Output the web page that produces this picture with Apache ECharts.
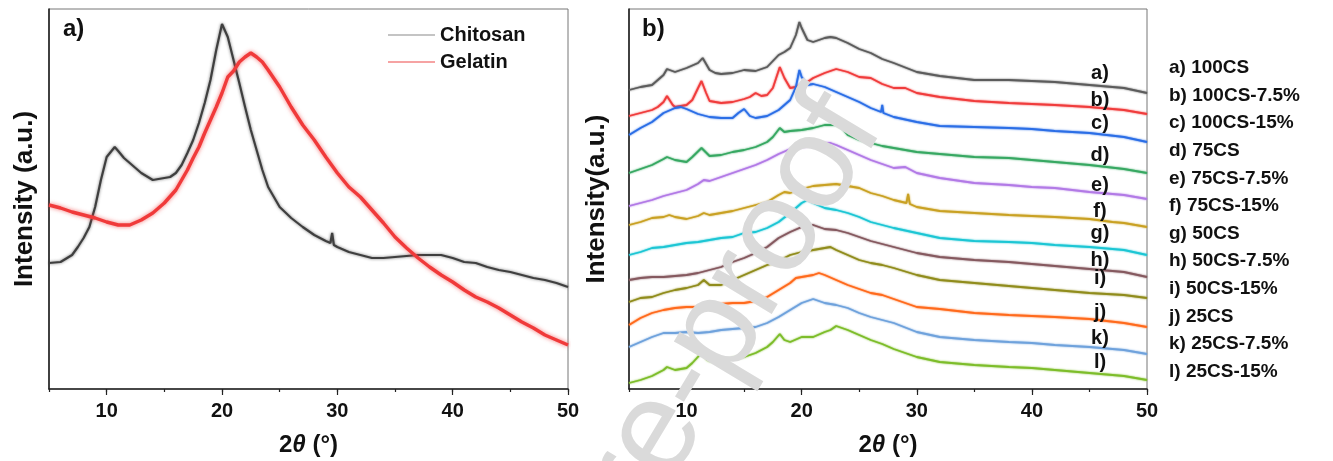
<!DOCTYPE html>
<html>
<head>
<meta charset="utf-8">
<script src="https://cdn.jsdelivr.net/npm/echarts@6/dist/echarts.min.js"></script>
<style>
  html, body { margin: 0; padding: 0; background: #ffffff; }
  #chart { width: 1333px; height: 461px; }
</style>
</head>
<body>
<div id="chart"></div>
<script>
// ---------- data ----------
const X_TICKS = [10, 20, 30, 40, 50];

// panel a: pure components, [2θ, intensity (a.u.)]
const CHITOSAN = [[5,126],[6,127],[7,134],[7.5,142],[8,151],[8.5,162],[9,182],[9.5,209],[10,232],[10.7,242],[11,238],[11.5,231],[12,226],[13,216],[14,209],[15,211],[15.5,212],[16,216],[16.5,224],[17,236],[17.5,249],[18,266],[18.5,286],[19,309],[19.5,339],[20,365],[20.5,352],[21,329],[21.5,306],[22,282],[22.5,259],[23,239],[23.5,219],[24,202],[25,182],[26,171],[27,162],[28,154],[29,148],[29.4,146],[29.55,156],[29.7,144],[30,142],[31,137],[32,134],[33,131],[34,131],[35,132],[36,133],[37,134],[38,134],[39,134],[40,131],[41,127],[42,126],[43,122],[44,119],[45,117],[46,114],[47,111],[48,109],[49,106],[50,102]];
const GELATIN = [[5,184],[6,181],[7,177],[8,174],[9,171],[10,167],[11,164],[12,164],[13,169],[14,176],[15,186],[16,199],[16.5,209],[17,219],[17.5,231],[18,242],[18.5,256],[19,269],[19.5,282],[20,296],[20.5,312],[21,318],[21.5,327],[22,332],[22.5,336],[23,332],[23.5,327],[24,319],[25,302],[26,282],[27,264],[28,249],[29,232],[30,216],[31,202],[32,192],[33,179],[34,166],[35,152],[36,141],[37,131],[38,122],[39,114],[40,107],[41,99],[42,92],[43,87],[44,81],[45,74],[46,67],[47,61],[48,54],[49,49],[50,44]];

// panel b: stacked film patterns, [2θ, intensity (a.u.) incl. offset]
const SAMPLE_TAGS = ['a)','b)','c)','d)','e)','f)','g)','h)','i)','j)','k)','l)'];
const SAMPLE_NAMES = ['100CS','100CS-7.5%','100CS-15%','75CS','75CS-7.5%','75CS-15%','50CS','50CS-7.5%','50CS-15%','25CS','25CS-7.5%','25CS-15%'];

const XRD_100CS = [[5,299],[6,302],[7,304],[8,314],[8.3,320],[9,317],[10,321],[11,326],[11.4,331],[12,319],[12.5,316],[13,315],[14,316],[15,319],[16,318],[17,322],[18,334],[18.5,337],[19,341],[19.5,354],[19.8,367],[20,361],[20.5,349],[21,347],[22,351],[22.5,352],[23,351],[24,346],[25,340],[26,336],[27,330],[28,326],[30,317],[32,313],[35,309],[38,309],[40,308],[42,307],[45,304],[48,301],[50,296]];
const XRD_100CS_75 = [[5,273],[6,276],[7,279],[7.5,282],[8,287],[8.3,293],[8.8,284],[9,282],[10,284],[10.5,289],[11,301],[11.3,308],[11.7,296],[12,288],[13,286],[14,287],[15,290],[15.5,292],[16,296],[16.5,293],[17,294],[17.5,301],[18.1,322],[18.5,311],[19,301],[19.5,302],[20,305],[20.5,307],[21,311],[22,316],[23,320],[24,317],[25,312],[26,311],[27,305],[28,301],[29,301],[30,296],[32,292],[35,288],[38,286],[40,285],[42,284],[45,282],[48,279],[50,275]];
const XRD_100CS_15 = [[5,254],[6,261],[7,267],[8,276],[9,281],[9.5,282],[10,280],[11,275],[12,272],[13,271],[14,271],[14.5,276],[15,280],[15.5,273],[16,271],[17,273],[18,279],[19,289],[19.5,302],[19.8,319],[20,312],[20.5,304],[21,305],[22,302],[23,297],[24,292],[25,287],[26,281],[26.9,277],[27,284],[27.1,276],[28,272],[30,267],[32,263],[35,262],[38,261],[40,260],[42,258],[45,256],[48,252],[50,247]];
const XRD_75CS = [[5,216],[6,220],[7,224],[8,230],[8.3,232],[9,229],[10,227],[10.5,232],[11.3,241],[12,233],[13,234],[14,237],[15,239],[16,242],[17,247],[17.5,252],[18.1,261],[18.5,257],[19,258],[20,259],[21,261],[22,264],[23,264],[23.5,261],[24,254],[25,249],[26,246],[27,243],[28,241],[30,237],[32,235],[35,232],[38,231],[40,229],[42,227],[45,224],[48,220],[50,216]];
const XRD_75CS_75 = [[5,183],[6,186],[7,189],[8,193],[9,196],[10,199],[11,205],[11.5,209],[12,208],[13,212],[14,216],[15,220],[16,224],[17,229],[18,235],[19,240],[20,242],[21,244],[22,246],[22.5,246],[23,244],[24,239],[25,234],[26,229],[27,225],[28,221],[29,222],[30,216],[32,211],[35,206],[38,204],[40,202],[42,201],[45,197],[48,194],[50,190]];
const XRD_75CS_15 = [[5,164],[6,167],[7,171],[8,172],[8.5,174],[9,172],[10,170],[11,173],[11.5,176],[12,174],[13,176],[14,178],[15,181],[16,184],[17,187],[18,194],[18.5,197],[19,196],[20,200],[21,203],[22,204],[23,205],[24,203],[25,201],[26,196],[27,193],[28,189],[29.1,186],[29.25,195],[29.4,185],[30,182],[32,178],[35,176],[38,174],[40,173],[42,172],[45,170],[47,167],[48,166],[50,162]];
const XRD_50CS = [[5,134],[6,137],[7,141],[8,142],[9,144],[10,146],[11,147],[12,149],[13,151],[14,152],[15,156],[16,157],[17,161],[18,167],[19,176],[20,186],[20.5,189],[21,186],[22,181],[23,179],[24,176],[25,172],[26,167],[27,164],[28,161],[30,156],[32,151],[35,148],[38,147],[40,146],[42,144],[45,142],[48,139],[50,134]];
const XRD_50CS_75 = [[5,109],[6,111],[7,112],[8,112],[9,113],[10,114],[11,116],[12,119],[13,122],[14,127],[15,131],[16,136],[17,142],[18,151],[19,157],[20,162],[21,164],[21.5,162],[22,160],[23,159],[24,156],[25,152],[26,148],[27,145],[28,142],[30,136],[32,132],[35,129],[38,127],[40,125],[42,123],[45,120],[48,117],[50,112]];
const XRD_50CS_15 = [[5,87],[6,91],[7,92],[8,96],[9,99],[10,101],[11,104],[11.5,109],[12,104],[13,104],[14,109],[15,114],[16,119],[17,124],[18,127],[18.5,131],[19,134],[20,137],[21,139],[22,141],[22.5,142],[23,139],[24,134],[25,129],[26,126],[27,124],[28,121],[30,114],[32,109],[35,106],[38,103],[40,101],[42,99],[45,96],[48,94],[50,91]];
const XRD_25CS = [[5,64],[6,71],[7,76],[8,79],[9,81],[10,82],[11,82],[12,84],[13,85],[14,86],[15,86],[16,88],[17,92],[18,99],[19,106],[19.5,111],[20,112],[21,114],[21.5,116],[22,114],[23,109],[24,104],[25,100],[26,96],[27,94],[28,90],[30,82],[32,80],[35,76],[38,74],[40,73],[42,72],[45,70],[48,66],[50,62]];
const XRD_25CS_75 = [[5,42],[6,47],[7,52],[8,56],[9,56],[10,57],[11,56],[12,57],[13,59],[14,60],[15,61],[16,62],[17,66],[18,72],[19,79],[20,86],[21,90],[22,86],[23,84],[24,81],[25,76],[26,72],[27,69],[28,66],[30,57],[32,52],[35,49],[38,47],[40,46],[42,44],[45,42],[48,39],[50,35]];
const XRD_25CS_15 = [[5,6],[6,9],[7,13],[8,19],[8.3,22],[9,19],[10,21],[10.5,26],[11.3,36],[11.8,29],[12,28],[13,27],[14,31],[15,32],[16,36],[17,42],[17.5,47],[18.1,55],[18.5,49],[19,47],[20,52],[21,52],[22,57],[22.5,59],[23,63],[24,59],[25,54],[26,49],[27,45],[28,40],[30,32],[32,27],[35,24],[38,22],[40,21],[42,19],[45,16],[48,13],[50,9]];

const SAMPLE_DATA = [XRD_100CS, XRD_100CS_75, XRD_100CS_15, XRD_75CS, XRD_75CS_75, XRD_75CS_15,
                     XRD_50CS, XRD_50CS_75, XRD_50CS_15, XRD_25CS, XRD_25CS_75, XRD_25CS_15];

// ---------- styling ----------
const FONT = '"Liberation Sans", Arial, Helvetica, sans-serif';
const SAMPLE_COLORS = ['#5c5c5c','#f03c3c','#2b6ee6','#37a862','#b27ae6','#c9a123',
                       '#1cc6d4','#85595f','#908c1c','#ff6a1c','#6fa2dc','#7dbd2a'];
// vertical centres (px) of the curve tags and of the sample key
const TAG_X = 1100;
const TAG_Y = [73, 100, 123, 155, 185, 211, 233, 260, 278, 312, 338, 362];
const KEY_X = 1169;
const KEY_Y0 = 68, KEY_STEP = 27.6;

const GRID_TOP = 9, GRID_BOTTOM = 72;

function mainXAxis(gridIndex) {
  return {
    type: 'value', gridIndex, min: 5, max: 50, interval: 5,
    axisLine: { show: true, onZero: false, lineStyle: { color: '#222', width: 1.6 } },
    axisTick: { show: true, length: 3, lineStyle: { color: '#222', width: 1.2 } },
    axisLabel: {
      formatter: v => (v % 10 === 0 ? String(v) : ''),
      margin: 12, color: '#111', fontSize: 20, fontWeight: 'bold', fontFamily: FONT
    },
    splitLine: { show: false },
    name: '2{it|θ} (°)', nameLocation: 'middle', nameGap: 44,
    nameTextStyle: {
      color: '#111', fontSize: 24, fontWeight: 'bold', fontFamily: FONT,
      rich: { it: { fontStyle: 'italic', fontSize: 24, fontWeight: 'bold', fontFamily: FONT, color: '#111' } }
    }
  };
}
function majorTickAxis(gridIndex) {
  return {
    type: 'value', gridIndex, min: 5, max: 50, interval: 5, position: 'bottom', offset: 0,
    axisLine: { show: false },
    axisTick: { show: true, length: 6, customValues: X_TICKS, lineStyle: { color: '#222', width: 1.2 } },
    axisLabel: { show: false },
    splitLine: { show: false }
  };
}
function yAxisFor(gridIndex, title, gap) {
  return {
    type: 'value', gridIndex, min: 0, max: 380,
    axisLine: { show: true, onZero: false, lineStyle: { color: '#222', width: 1.6 } },
    axisTick: { show: false }, axisLabel: { show: false }, splitLine: { show: false },
    name: title, nameLocation: 'middle', nameGap: gap,
    nameTextStyle: { color: '#111', fontSize: 26, fontWeight: 'bold', fontFamily: FONT }
  };
}

const series = [
  {
    name: 'Chitosan', type: 'line', xAxisIndex: 0, yAxisIndex: 0, data: CHITOSAN,
    showSymbol: false, color: '#3f3f3f',
    lineStyle: { width: 2.2, color: '#3f3f3f', shadowBlur: 3, shadowColor: 'rgba(60,60,60,0.7)' }
  },
  {
    name: 'Gelatin', type: 'line', xAxisIndex: 0, yAxisIndex: 0, data: GELATIN,
    showSymbol: false, color: '#f03a3a',
    lineStyle: { width: 3.4, color: '#f03a3a', shadowBlur: 4, shadowColor: 'rgba(240,58,58,0.7)' }
  }
];
SAMPLE_DATA.forEach((d, i) => {
  series.push({
    name: SAMPLE_NAMES[i], type: 'line', xAxisIndex: 2, yAxisIndex: 1, data: d,
    showSymbol: false, color: SAMPLE_COLORS[i],
    lineStyle: { width: 1.8, color: SAMPLE_COLORS[i], shadowBlur: 2, shadowColor: SAMPLE_COLORS[i] }
  });
});

const graphics = [
  { type: 'text', left: 63, top: 17, z: 50,
    style: { text: 'a)', fontSize: 24, fontWeight: 'bold', fontFamily: FONT, fill: '#111' } },
  { type: 'text', left: 642, top: 17, z: 50,
    style: { text: 'b)', fontSize: 24, fontWeight: 'bold', fontFamily: FONT, fill: '#111' } }
];
SAMPLE_TAGS.forEach((t, i) => {
  graphics.push({ type: 'text', x: TAG_X, y: TAG_Y[i], z: 50,
    style: { text: t, fontSize: 20, fontWeight: 'bold', fontFamily: FONT, fill: '#111',
             align: 'center', verticalAlign: 'middle' } });
  graphics.push({ type: 'text', x: KEY_X, y: KEY_Y0 + KEY_STEP * i, z: 50,
    style: { text: t + ' ' + SAMPLE_NAMES[i], fontSize: 19, fontWeight: 'bold', fontFamily: FONT, fill: '#111',
             align: 'left', verticalAlign: 'middle' } });
});
// diagonal manuscript watermark drawn over everything
graphics.push({ type: 'text', x: 853, y: 108, rotation: 59 * Math.PI / 180, z: 200,
  style: { text: 'Journal Pre-proof', fontSize: 132, fontFamily: FONT, fontWeight: 'normal',
           fill: '#dadada', align: 'right', verticalAlign: 'middle' } });

const chart = echarts.init(document.getElementById('chart'), null, { renderer: 'canvas' });
chart.setOption({
  animation: false,
  backgroundColor: '#ffffff',
  grid: [
    { left: 49, right: 765, top: GRID_TOP, bottom: GRID_BOTTOM, containLabel: false, outerBoundsMode: 'none',
      show: true, borderColor: '#777', borderWidth: 1 },
    { left: 629, right: 186, top: GRID_TOP, bottom: GRID_BOTTOM, containLabel: false, outerBoundsMode: 'none',
      show: true, borderColor: '#777', borderWidth: 1 }
  ],
  xAxis: [mainXAxis(0), majorTickAxis(0), mainXAxis(1), majorTickAxis(1)],
  yAxis: [yAxisFor(0, 'Intensity (a.u.)', 11), yAxisFor(1, 'Intensity(a.u.)', 19)],
  legend: {
    show: true, orient: 'vertical', left: 383, top: 20, itemGap: 7,
    icon: 'rect', itemWidth: 47, itemHeight: 2,
    data: [
      { name: 'Chitosan', itemStyle: { color: '#c4c4c4' } },
      { name: 'Gelatin', itemStyle: { color: '#f6a3a3' } }
    ],
    textStyle: { color: '#111', fontSize: 20, fontWeight: 'bold', fontFamily: FONT },
    selectedMode: false
  },
  graphic: graphics,
  series: series
});
</script>
</body>
</html>
